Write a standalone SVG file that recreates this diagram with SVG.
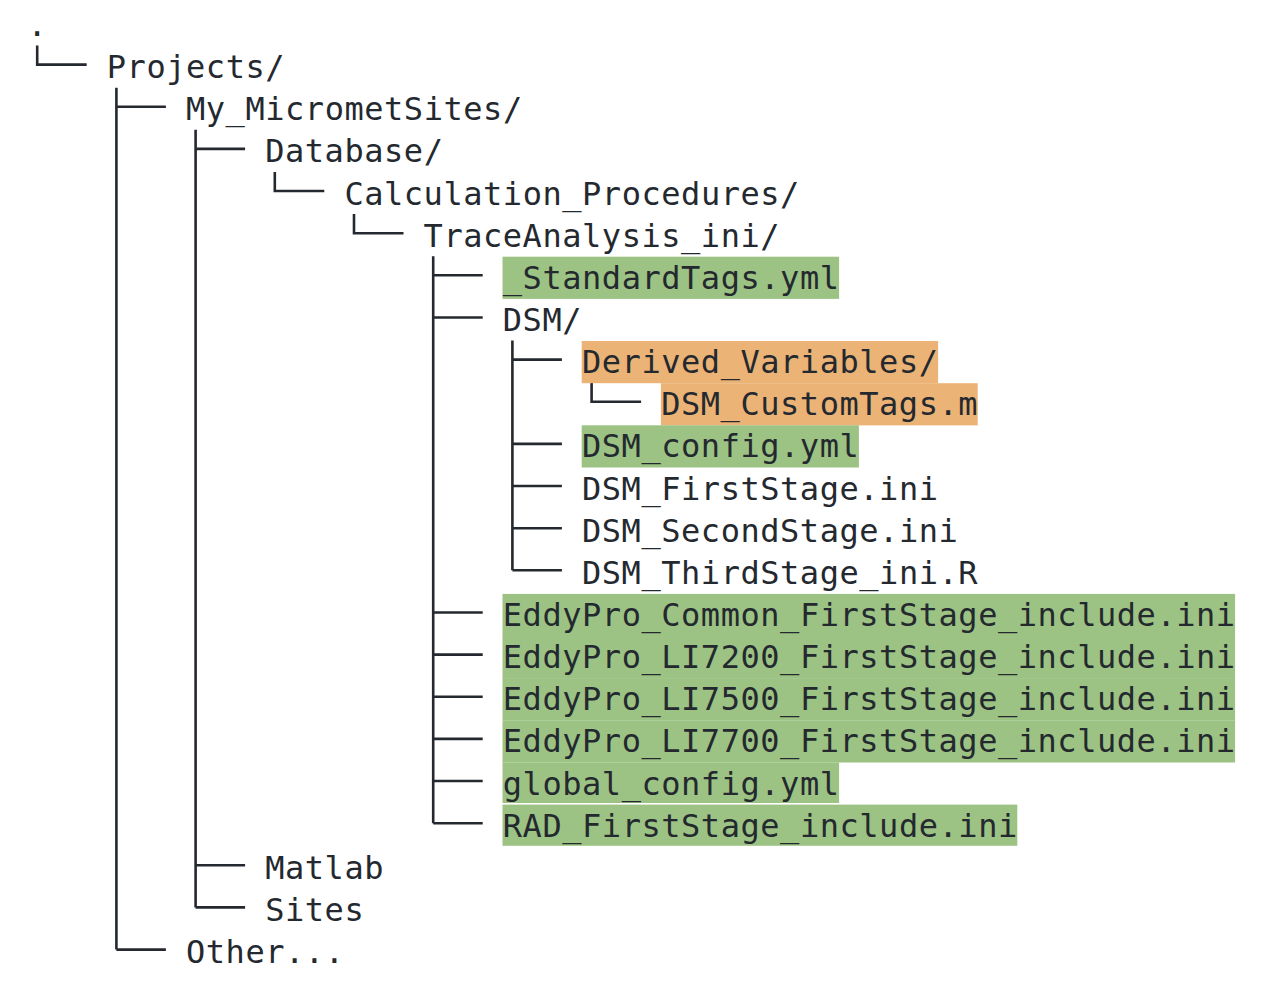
<svg xmlns="http://www.w3.org/2000/svg" width="1280" height="1000" viewBox="0 0 1280 1000">
<style>
text{font-family:"DejaVu Sans Mono","Liberation Mono",monospace;font-size:32px;letter-spacing:0.54px;fill:#24292f;}
.g{fill:#9cc383;}
.o{fill:#ecb376;}
.c{fill:none;stroke:#24292f;stroke-width:2.6;}
</style>
<rect width="1280" height="1000" fill="#ffffff"/>
<g id="connectors" class="c">
<path d="M37.2 45.6V64.6H86.7"/>
<path d="M116.4 87.7V949.6M116.4 106.8H165.9M116.4 949.6H165.9"/>
<path d="M195.6 129.85V907.4M195.6 148.9H245.1M195.6 865.3H245.1M195.6 907.4H245.1"/>
<path d="M274.8 172V191.06H324.3"/>
<path d="M354 214.1V233.2H403.5"/>
<path d="M433.2 256.3V823.2M433.2 275.3H482.7M433.2 317.5H482.7M433.2 612.5H482.7M433.2 654.6H482.7M433.2 696.7H482.7M433.2 738.9H482.7M433.2 781H482.7M433.2 823.2H482.7"/>
<path d="M512.4 340.5V570.3M512.4 359.6H561.9M512.4 443.9H561.9M512.4 486H561.9M512.4 528.2H561.9M512.4 570.3H561.9"/>
<path d="M591.6 382.7V401.8H641.1"/>
</g>
<g id="root"><text x="27.6" y="36">.</text></g>
<g id="projects"><text x="106.8" y="78.1">Projects/</text></g>
<g id="my-micrometsites"><text x="186" y="120.3">My_MicrometSites/</text></g>
<g id="database"><text x="265.2" y="162.4">Database/</text></g>
<g id="calculation-procedures"><text x="344.4" y="204.6">Calculation_Procedures/</text></g>
<g id="traceanalysis-ini"><text x="423.6" y="246.7">TraceAnalysis_ini/</text></g>
<g id="standardtags"><rect class="g" x="502.5" y="256.7" width="336.6" height="42.2"/><text x="502.8" y="288.8">_StandardTags.yml</text></g>
<g id="dsm"><text x="502.8" y="331">DSM/</text></g>
<g id="derived-variables"><rect class="o" x="581.7" y="341" width="356.4" height="42.2"/><text x="582" y="373.1">Derived_Variables/</text></g>
<g id="dsm-customtags"><rect class="o" x="660.9" y="383.2" width="316.8" height="42.2"/><text x="661.2" y="415.3">DSM_CustomTags.m</text></g>
<g id="dsm-config"><rect class="g" x="581.7" y="425.3" width="277.2" height="42.2"/><text x="582" y="457.4">DSM_config.yml</text></g>
<g id="dsm-firststage"><text x="582" y="499.5">DSM_FirstStage.ini</text></g>
<g id="dsm-secondstage"><text x="582" y="541.7">DSM_SecondStage.ini</text></g>
<g id="dsm-thirdstage"><text x="582" y="583.8">DSM_ThirdStage_ini.R</text></g>
<g id="eddypro-common"><rect class="g" x="502.5" y="593.9" width="732.6" height="42.3"/><text x="502.8" y="626">EddyPro_Common_FirstStage_include.ini</text></g>
<g id="eddypro-li7200"><rect class="g" x="502.5" y="636" width="732.6" height="42.3"/><text x="502.8" y="668.1">EddyPro_LI7200_FirstStage_include.ini</text></g>
<g id="eddypro-li7500"><rect class="g" x="502.5" y="678.1" width="732.6" height="42.3"/><text x="502.8" y="710.2">EddyPro_LI7500_FirstStage_include.ini</text></g>
<g id="eddypro-li7700"><rect class="g" x="502.5" y="720.3" width="732.6" height="42.2"/><text x="502.8" y="752.4">EddyPro_LI7700_FirstStage_include.ini</text></g>
<g id="global-config"><rect class="g" x="502.5" y="762.4" width="336.6" height="40.6"/><text x="502.8" y="794.5">global_config.yml</text></g>
<g id="rad-firststage"><rect class="g" x="502.5" y="804.6" width="514.8" height="41.2"/><text x="502.8" y="836.7">RAD_FirstStage_include.ini</text></g>
<g id="matlab"><text x="265.2" y="878.8">Matlab</text></g>
<g id="sites"><text x="265.2" y="920.9">Sites</text></g>
<g id="other"><text x="186" y="963.1">Other...</text></g>
</svg>
